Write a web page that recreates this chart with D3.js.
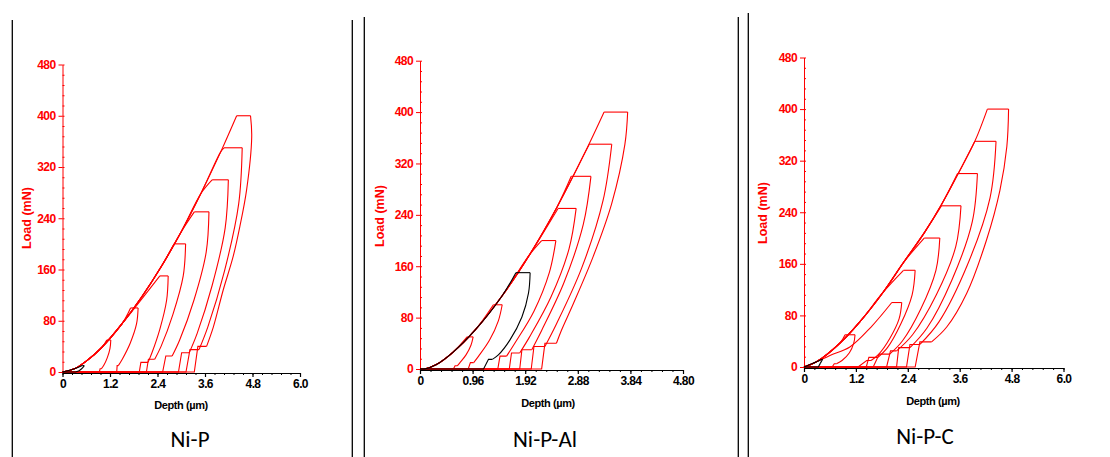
<!DOCTYPE html>
<html>
<head>
<meta charset="utf-8">
<script src="https://cdn.jsdelivr.net/npm/d3@7"></script>
<style>
body { margin: 0; background: #fff; }
.tk text { font-family: "Liberation Sans Narrow", "Arial Narrow", "Liberation Sans", sans-serif; font-weight: bold; font-size: 12px; letter-spacing: -0.6px; }
.lab { font-family: "Liberation Sans", Arial, sans-serif; font-weight: bold; }
.ttl { font-family: Carlito, Lato, "Open Sans", sans-serif; font-size: 23px; fill: #000; }
</style>
</head>
<body>
<svg id="chart" width="1110" height="457"></svg>
<script>
// tick labels
var yTicks = [0, 80, 160, 240, 320, 400, 480];
var xTicks6 = [0, 1.2, 2.4, 3.6, 4.8, 6.0];
var xLabels6 = ["0", "1.2", "2.4", "3.6", "4.8", "6.0"];
var xTicks48 = [0, 0.96, 1.92, 2.88, 3.84, 4.80];
var xLabels48 = ["0", "0.96", "1.92", "2.88", "3.84", "4.80"];

// loading envelopes [depth um, load mN]
var niP_loading = [[0,0],[0.3,5],[0.6,17],[1.0,39],[1.5,75],[2.0,117],[2.5,165],[3.0,219],[3.5,279],[4.0,344],[4.4,400]];
var niPAl_loading = [[0,0],[0.1,0.5],[0.3,7],[0.6,26],[1.0,60],[1.5,114],[2.0,178],[2.5,252],[3.0,335],[3.36,400]];
var niPC_loading = [[0,0],[0.29,8],[0.83,37],[1.29,70],[1.83,116],[2.30,162],[2.78,208],[3.18,252],[3.55,298],[3.95,350],[4.24,400]];

// cycles: p = max load, on/off = hold start/end depth, un = unloading points,
// step = depth after low-load hold, end = final depth
var niP_cycles = [
  {p: 50,  on: 1.12, off: 1.22, un: [[1.20,37],[1.13,22],[1.04,10],[0.98,5]], step: 0.95, end: 0.93},
  {p: 100, on: 1.72, off: 1.91, un: [[1.87,75],[1.71,45],[1.51,20],[1.41,10]], step: 1.38, end: 1.37},
  {p: 150, on: 2.46, off: 2.67, via: [[1.8,98]], un: [[2.63,112],[2.46,67],[2.26,30],[2.16,15]], step: 1.98, end: 1.94},
  {p: 200, on: 2.82, off: 3.11, un: [[3.05,150],[2.79,90],[2.49,40],[2.33,20]], step: 2.17, end: 2.12},
  {p: 250, on: 3.33, off: 3.70, un: [[3.63,187],[3.32,112],[2.96,50],[2.77,25]], step: 2.61, end: 2.53},
  {p: 300, on: 3.78, off: 4.19, un: [[4.11,225],[3.78,135],[3.40,60],[3.20,30]], step: 3.01, end: 2.93},
  {p: 350, on: 4.08, off: 4.54, un: [[4.45,262],[4.09,157],[3.67,70],[3.45,35]], step: 3.22, end: 3.12},
  {p: 400, on: 4.40, off: 4.75, un: [[4.78,367],[4.65,284],[4.48,227],[4.31,180],[4.06,128],[3.81,70],[3.64,40]], step: 3.42, end: 3.33},
  {p: 10,  on: 0.50, off: 0.55, un: [[0.50,6],[0.42,2]], end: 0.33, black: true}
];
var niPAl_cycles = [
  {p: 50,  on: 0.86, off: 0.97, un: [[0.93,37],[0.84,22],[0.73,10],[0.68,5]], step: 0.64, end: 0.61},
  {p: 100, on: 1.34, off: 1.50, un: [[1.43,75],[1.27,45],[1.07,20],[0.98,10]], step: 0.92, end: 0.88},
  {p: 200, on: 2.22, off: 2.48, un: [[2.36,150],[2.08,90],[1.73,40],[1.58,20]], step: 1.46, end: 1.42},
  {p: 250, on: 2.52, off: 2.85, un: [[2.72,187],[2.39,112],[2.00,50],[1.82,25]], step: 1.67, end: 1.63},
  {p: 300, on: 2.76, off: 3.12, un: [[2.98,225],[2.63,135],[2.22,60],[2.04,30]], step: 1.86, end: 1.82},
  {p: 350, on: 3.09, off: 3.50, un: [[3.34,262],[2.95,157],[2.49,70],[2.28,35]], step: 2.08, end: 2.03},
  {p: 400, on: 3.36, off: 3.79, un: [[3.74,350],[3.50,258],[3.16,175],[2.80,102],[2.58,60],[2.49,40]], step: 2.28, end: 2.22},
  {p: 150, on: 1.75, off: 2.01, un: [[1.98,118],[1.86,81],[1.64,45],[1.43,22],[1.32,15]], step: 1.25, end: 1.16, black: true}
];
var niPC_cycles = [
  {p: 50,  on: 0.95, off: 1.18, un: [[1.15,37],[1.05,22],[0.88,10],[0.75,5]], step: 0.70, end: 0.65},
  {p: 100, on: 2.03, off: 2.26, via: [[0.6,18],[1.06,31],[1.55,62]], un: [[2.20,75],[1.99,45],[1.73,20],[1.55,10]], step: 1.45, end: 1.25},
  {p: 150, on: 2.30, off: 2.57, un: [[2.50,112],[2.24,67],[1.93,30],[1.71,15]], step: 1.50, end: 1.44},
  {p: 200, on: 2.78, off: 3.14, un: [[3.05,150],[2.70,90],[2.27,40],[1.98,20]], step: 1.74, end: 1.60},
  {p: 250, on: 3.18, off: 3.63, un: [[3.51,187],[3.06,112],[2.51,50],[2.14,25]], step: 2.00, end: 1.91},
  {p: 300, on: 3.55, off: 4.01, un: [[3.89,225],[3.42,135],[2.84,60],[2.45,30]], step: 2.19, end: 2.14},
  {p: 350, on: 3.95, off: 4.44, un: [[4.30,262],[3.77,157],[3.12,70],[2.68,35]], step: 2.45, end: 2.37},
  {p: 400, on: 4.24, off: 4.73, un: [[4.69,342],[4.53,274],[4.22,197],[3.76,114],[3.30,62],[2.95,39]], step: 2.68, end: 2.57},
  {p: 12,  on: 0.41, off: 0.43, un: [[0.38,6]], end: 0.33, black: true}
];

var panels = [
  {title: "Ni-P", loading: niP_loading, cycles: niP_cycles, xmax: 6, xt: xTicks6, xl: xLabels6,
   x0: 62.5, x1: 300, y0: 372, y1: 64.5, loadAt: [27, 218], depthAt: [181, 405], titleAt: [190, 447]},
  {title: "Ni-P-Al", loading: niPAl_loading, cycles: niPAl_cycles, xmax: 4.8, xt: xTicks48, xl: xLabels48,
   x0: 420, x1: 683, y0: 369, y1: 60.7, loadAt: [380, 216], depthAt: [548, 403], titleAt: [545, 447]},
  {title: "Ni-P-C", loading: niPC_loading, cycles: niPC_cycles, xmax: 6, xt: xTicks6, xl: xLabels6,
   x0: 804, x1: 1063.5, y0: 367, y1: 57.5, loadAt: [763, 213], depthAt: [933, 401], titleAt: [925, 444]}
];

var svg = d3.select("#chart");

// separators
var seps = [[12.3, 20], [352.3, 20], [364.3, 17], [738.3, 17], [748.3, 13]];
svg.selectAll("line.sep")
  .data(seps)
  .enter()
  .append("line")
  .attr("x1", function(d) { return d[0]; })
  .attr("x2", function(d) { return d[0]; })
  .attr("y1", function(d) { return d[1]; })
  .attr("y2", 457)
  .attr("stroke", "#000")
  .attr("stroke-width", 1.3);

panels.forEach(function(pn) {
  var g = svg.append("g");
  var x = d3.scaleLinear().domain([0, pn.xmax]).range([pn.x0, pn.x1]);
  var y = d3.scaleLinear().domain([0, 480]).range([pn.y0, pn.y1]);

  var smooth = d3.line()
    .x(function(d) { return x(d[0]); })
    .y(function(d) { return y(d[1]); })
    .curve(d3.curveCatmullRom.alpha(0.5));
  var straight = d3.line()
    .x(function(d) { return x(d[0]); })
    .y(function(d) { return y(d[1]); });

  // y axis (red)
  var ya = g.append("g").attr("class", "tk")
    .attr("transform", "translate(" + pn.x0 + ",0)")
    .call(d3.axisLeft(y).tickValues(yTicks).tickSize(4).tickSizeOuter(0).tickPadding(3));
  g.append("g")
    .attr("transform", "translate(" + pn.x0 + ",0)")
    .call(d3.axisRight(y).tickValues(d3.range(0, 481, 16)).tickSize(2).tickSizeOuter(0).tickFormat(""))
    .call(function(s) { s.select(".domain").remove(); })
    .selectAll("line").attr("stroke", "#f00");
  ya.selectAll("line, path").attr("stroke", "#f00");
  ya.selectAll("text").attr("fill", "#f00");

  // x axis (black)
  var xa = g.append("g").attr("class", "tk")
    .attr("transform", "translate(0," + (pn.y0 + 1) + ")")
    .call(d3.axisBottom(x).tickValues(pn.xt).tickSize(4).tickSizeOuter(0).tickPadding(2)
      .tickFormat(function(d, i) { return pn.xl[i]; }));
  g.append("g")
    .attr("transform", "translate(0," + (pn.y0 + 1) + ")")
    .call(d3.axisBottom(x).tickValues(d3.range(0, pn.xmax + 1e-9, pn.xmax / 25)).tickSize(2).tickSizeOuter(0).tickFormat(""))
    .call(function(s) { s.select(".domain").remove(); })
    .selectAll("line").attr("stroke", "#000");
  xa.selectAll("line, path").attr("stroke", "#000").attr("stroke-width", 1.2);
  xa.selectAll("text").attr("fill", "#000");

  // cycles, red first then black on top
  var order = pn.cycles.filter(function(c) { return !c.black; })
    .concat(pn.cycles.filter(function(c) { return c.black; }));
  order.forEach(function(c) {
    var col = c.black ? "#000" : "#f00";
    var lim = c.via ? c.via[0][1] : c.p;
    var pre = pn.loading.filter(function(d) { return d[1] < lim && d[0] < c.on; });
    var loadPts = pre.concat(c.via || [], [[c.on, c.p]]);
    var unPts = [[c.off, c.p]].concat(c.un);
    var last = c.un[c.un.length - 1];
    var hold = [[c.on, c.p], [c.off, c.p]];
    var tail = [last];
    if (c.step !== undefined) tail.push([c.step, last[1]]);
    tail.push([c.end, 0], [0, 0]);
    [[smooth, loadPts], [straight, hold], [smooth, unPts], [straight, tail]].forEach(function(s) {
      g.append("path")
        .attr("d", s[0](s[1]))
        .attr("fill", "none")
        .attr("stroke", col)
        .attr("stroke-width", 1.1);
    });
  });

  // labels
  g.append("text").attr("class", "lab")
    .attr("transform", "translate(" + pn.loadAt[0] + "," + pn.loadAt[1] + ") rotate(-90)")
    .attr("text-anchor", "middle").attr("dy", "0.35em")
    .attr("font-size", 12.5)
    .attr("fill", "#f00")
    .text("Load (mN)");
  g.append("text").attr("class", "lab")
    .attr("x", pn.depthAt[0]).attr("y", pn.depthAt[1])
    .attr("text-anchor", "middle").attr("dy", "0.35em")
    .attr("font-size", 11)
    .attr("letter-spacing", -0.4)
    .attr("fill", "#000")
    .text("Depth (\u00b5m)");
  g.append("text").attr("class", "ttl")
    .attr("x", pn.titleAt[0]).attr("y", pn.titleAt[1])
    .attr("text-anchor", "middle")
    .text(pn.title);
});
</script>
</body>
</html>
